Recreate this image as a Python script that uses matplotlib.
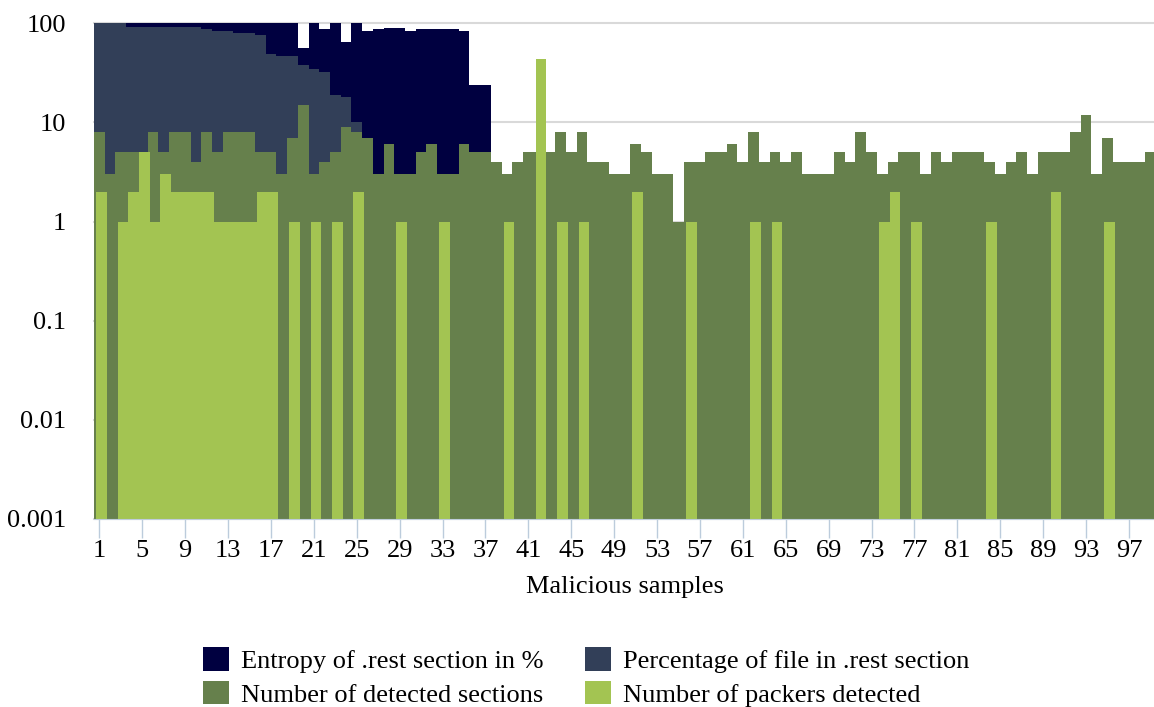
import numpy as np
import matplotlib.pyplot as plt
from matplotlib.patches import Patch
from matplotlib.ticker import NullLocator

plt.rcParams['font.family'] = ['Liberation Serif', 'DejaVu Serif']

# ============================================
# Data
# ============================================
samples = np.arange(1, 100)

# Entropy of .rest section in % (0 = no bar)
entropy = [99, 99, 99, 100, 100, 100, 100, 100, 100, 100,
           100, 100, 100, 100, 100, 100, 100, 100, 100, 56,
           100, 88, 100, 65, 100, 84, 88, 90, 90, 84,
           88, 88, 88, 88, 84, 24, 24] + [0] * 62

# Percentage of file in .rest section
percentage = [100, 100, 100, 91, 91, 91, 91, 91, 91, 91,
              88, 84, 84, 80, 80, 77, 49, 47, 47, 38,
              35, 32, 19, 18, 10, 2.5, 2.4, 2.3, 2.2, 2.1,
              2.0, 1.9, 1.8, 1.7, 1.6, 1.5, 1.4] + [0] * 62

# Number of detected sections
sections = [8, 3, 5, 5, 5, 8, 5, 8, 8, 4,
            8, 5, 8, 8, 8, 5, 5, 3, 7, 15,
            3, 4, 5, 9, 8, 7, 3, 6, 3, 3,
            5, 6, 3, 3, 6, 5, 5, 4, 3, 4,
            5, 5, 5, 8, 5, 8, 4, 4, 3, 3,
            6, 5, 3, 3, 1, 4, 4, 5, 5, 6,
            4, 8, 4, 5, 4, 5, 3, 3, 3, 5,
            4, 8, 5, 3, 4, 5, 5, 3, 5, 4,
            5, 5, 5, 4, 3, 4, 5, 3, 5, 5,
            5, 8, 12, 3, 7, 4, 4, 4, 5]

# Number of packers detected (0 = no bar)
packers = [2, 0, 1, 2, 5, 1, 3, 2, 2, 2,
           2, 1, 1, 1, 1, 2, 2, 0, 1, 0,
           1, 0, 1, 0, 2, 0, 0, 0, 1, 0,
           0, 0, 1, 0, 0, 0, 0, 0, 1, 0,
           0, 44, 0, 1, 0, 1, 0, 0, 0, 0,
           2, 0, 0, 0, 0, 1, 0, 0, 0, 0,
           0, 1, 0, 1, 0, 0, 0, 0, 0, 0,
           0, 0, 0, 1, 2, 0, 1, 0, 0, 0,
           0, 0, 0, 1, 0, 0, 0, 0, 0, 2,
           0, 0, 0, 0, 1, 0, 0, 0, 0]

labels = ['Entropy of .rest section in %', 'Percentage of file in .rest section',
          'Number of detected sections', 'Number of packers detected']
colors = ['#000040', '#323F58', '#66804C', '#A3C452']

# ============================================
# Plot
# ============================================
fig = plt.figure(figsize=(11.54, 7.07), dpi=100)
ax = fig.add_axes([0.0815, 0.266, 0.92, 0.701])
ax.set_yscale('log')

series = [entropy, percentage, sections, packers]
offsets = [0, 0, 0, 0.19]
for i, (vals, col, off) in enumerate(zip(series, colors, offsets)):
    vals = np.array(vals, dtype=float)
    m = vals > 0
    ax.bar(samples[m] + off, vals[m], width=1.0, bottom=0.001, color=col,
           linewidth=0, zorder=2 + i, antialiased=False)

ax.set_xlim(0.5, 99.5)
ax.set_ylim(0.001, 100)

yt = [0.001, 0.01, 0.1, 1, 10, 100]
ax.set_yticks(yt, ['0.001', '0.01', '0.1', '1', '10', '100'])
ax.yaxis.set_minor_locator(NullLocator())
ax.set_xticks(np.arange(1, 100, 4), [str(v) for v in range(1, 100, 4)])

for y in yt:
    ax.axhline(y, color='#D9D9D9', linewidth=1.5, zorder=0, clip_on=False)

for s in ['top', 'right', 'left']:
    ax.spines[s].set_visible(False)
ax.spines['bottom'].set_color('#BFCDDB')
ax.spines['bottom'].set_zorder(10)

ax.tick_params(axis='x', length=14, width=1, color='#BCCCDC', labelsize=19,
               pad=1)
ax.tick_params(axis='y', length=0, labelsize=19, pad=20)

ax.set_xlabel('Malicious samples', fontsize=19, labelpad=10)

# legend filled column-wise, so reorder to get the reference rows
order = [0, 2, 1, 3]
handles = [Patch(facecolor=colors[k], edgecolor='none') for k in order]
fig.legend(handles, [labels[k] for k in order], loc='lower center', ncol=2,
           frameon=False, fontsize=19, bbox_to_anchor=(0.508, -0.018),
           borderaxespad=0.1, handlelength=1.0, handleheight=1.0,
           handletextpad=0.45, columnspacing=1.55, labelspacing=0.3)

plt.savefig('out.png', dpi=100)
